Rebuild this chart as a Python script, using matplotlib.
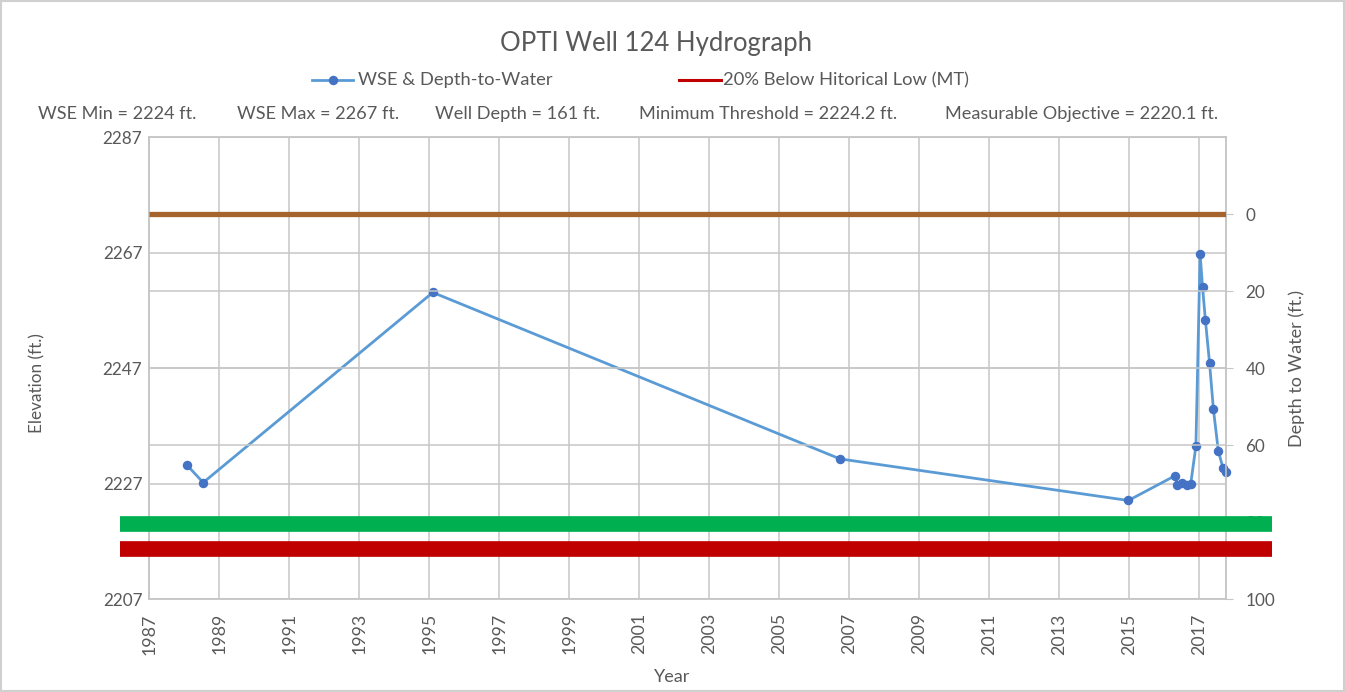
import matplotlib
matplotlib.use("Agg")
import matplotlib.pyplot as plt
import matplotlib.transforms as mtransforms
from matplotlib.lines import Line2D
from matplotlib.patches import Rectangle

# ---- data ----
years = [1988.08, 1988.54, 1995.10, 2006.73, 2014.97, 2016.31, 2016.37, 2016.51,
         2016.64, 2016.75, 2016.90, 2017.02, 2017.09, 2017.17, 2017.29, 2017.40,
         2017.54, 2017.67, 2017.76]
wse = [2230.2, 2227.2, 2260.1, 2231.3, 2224.1, 2228.4, 2226.7, 2227.1,
       2226.7, 2226.9, 2233.5, 2266.8, 2261.0, 2255.4, 2247.9, 2239.9,
       2232.7, 2229.8, 2229.1]
ground_depth = 0.0          # depth-to-water reference (ground surface)
mo_elev = 2220.1            # measurable objective (green)
low20_elev = 2215.7         # 20% below historical low (red)
x_ticks = list(range(1987, 2018, 2))
left_ticks = [2207, 2227, 2247, 2267, 2287]
right_ticks = [0, 20, 40, 60, 80, 100]
stats = ["WSE Min = 2224 ft.", "WSE Max = 2267 ft.", "Well Depth = 161 ft.",
         "Minimum Threshold = 2224.2 ft.", "Measurable Objective = 2220.1 ft."]
legend_labels = ['WSE & Depth-to-Water', '20% Below Hitorical Low (MT)']

plt.rcParams['font.family'] = ['Lato', 'DejaVu Sans']
txt = '#595959'
gridc = '#c6c6c6'
blue_line = '#5B9BD5'
blue_mark = '#4472C4'

W, H = 1345, 692
fig = plt.figure(figsize=(W/100, H/100), dpi=100)
ax = fig.add_axes([149.3/W, 1-599.3/H, (1226-149.3)/W, (599.3-137)/H])
ax2 = ax.twinx()

ax.set_xlim(1987, 2017.76)
ax.set_ylim(2207, 2287)
ax2.set_ylim(100, -20)

ax.set_xticks(x_ticks)
ax.set_yticks(left_ticks)
ax2.set_yticks(right_ticks)
ax.grid(True, color=gridc, lw=1.1)
ax2.grid(True, axis='y', color=gridc, lw=1.1)
ax.set_axisbelow(True)

for a in (ax, ax2):
    for s in a.spines.values():
        s.set_color(gridc)
        s.set_linewidth(1.1)

ax.tick_params(axis='x', length=0, pad=10, labelsize=12.8, labelcolor=txt, labelrotation=90)
ax.tick_params(axis='y', length=0, pad=5, labelsize=12.3, labelcolor=txt)
ax2.tick_params(axis='y', length=5, color=gridc, pad=9, labelsize=12.3, labelcolor=txt)

ax.plot(years, wse, color=blue_line, lw=2, marker='o', ms=5.8,
        mfc=blue_mark, mec=blue_mark, zorder=5, clip_on=False)

ax2.plot([1987, 2017.76], [ground_depth, ground_depth], color='#A5642C', lw=3.8, zorder=4,
         solid_capstyle='butt')

# thick threshold bars extending beyond plot area (drawn above right axis labels)
blend = mtransforms.blended_transform_factory(ax.transAxes, ax.transData)
for yv, col in [(mo_elev, '#00B050'), (low20_elev, '#C00000')]:
    ln = Line2D([-0.0272, 1.043], [yv, yv], transform=blend, color=col, lw=11.3,
                solid_capstyle='butt', clip_on=False, zorder=10)
    ax2.add_artist(ln)

ax.set_xlabel('Year', fontsize=13, color=txt, va='center')
ax.xaxis.set_label_coords(0.486, (599.3-677)/462.3)
ax.set_ylabel('Elevation (ft.)', fontsize=12.3, color=txt, va='center')
ax.yaxis.set_label_coords((37-149.3)/1076.7, (599.3-383)/462.3)
ax2.set_ylabel('Depth to Water (ft.)', fontsize=13, color=txt, va='center', rotation=90)
ax2.yaxis.set_label_coords((1297-149.3)/1076.7, 0.5)

fig.text(656/W, 1-43/H, 'OPTI Well 124 Hydrograph', ha='center', va='center',
         fontsize=18.5, color=txt)

# legend (manual placement)
ly = 1 - 80/H
fig.add_artist(Line2D([312/W, 353/W], [ly, ly], transform=fig.transFigure,
                      color=blue_line, lw=2))
fig.add_artist(Line2D([332.5/W], [ly], transform=fig.transFigure, marker='o', ms=5.8,
                      mfc=blue_mark, mec=blue_mark, lw=0))
fig.text(358/W, ly, legend_labels[0], ha='left', va='center', fontsize=13.2, color=txt)
fig.add_artist(Line2D([679/W, 721/W], [ly, ly], transform=fig.transFigure,
                      color='#C00000', lw=2.2))
fig.text(723/W, ly, legend_labels[1], ha='left', va='center', fontsize=13.2, color=txt)

xs = [38, 237, 435, 639, 945]
for x, s in zip(xs, stats):
    fig.text(x/W, 1-114/H, s, ha='left', va='center', fontsize=13.1, color=txt)

fig.patches.append(Rectangle((0.001, 0.001), 0.998, 0.997, transform=fig.transFigure,
                             fill=False, edgecolor='#d0d0d0', lw=1.5))

fig.savefig('out.png', dpi=100)
